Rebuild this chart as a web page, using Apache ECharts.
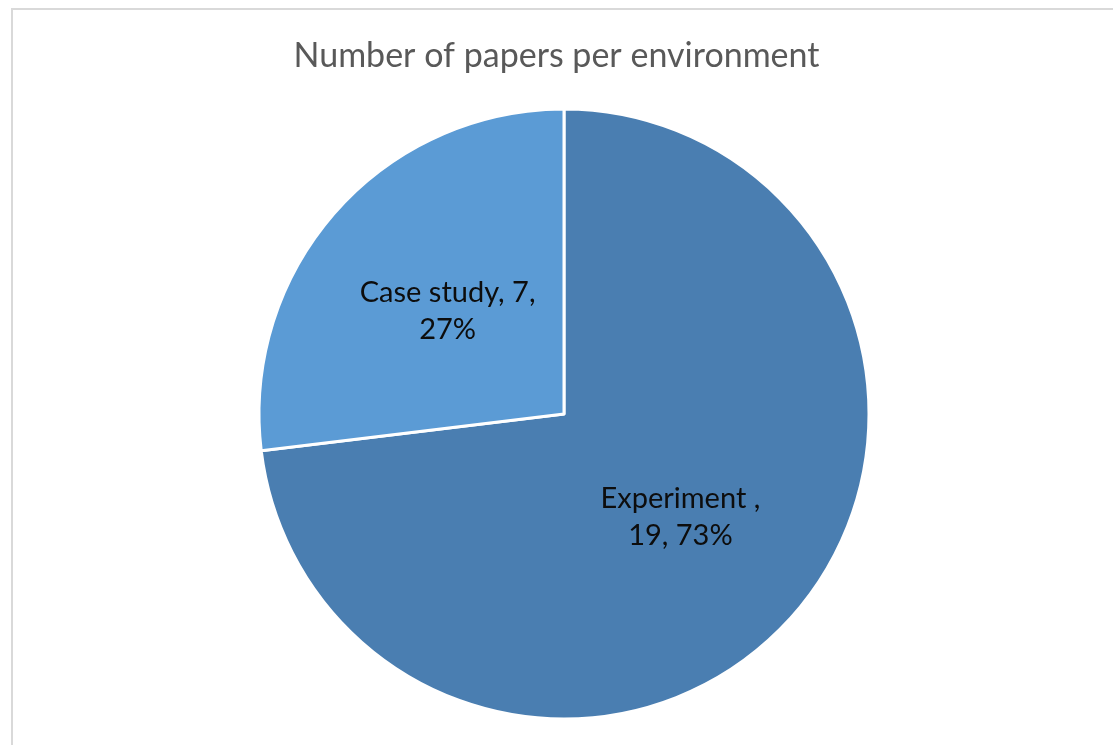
<!DOCTYPE html>
<html>
<head>
<meta charset="utf-8">
<script src="https://cdn.jsdelivr.net/npm/echarts@6/dist/echarts.min.js"></script>
<style>
  html, body { margin: 0; padding: 0; background: #fff; }
  #chart { width: 1113px; height: 745px; }
</style>
</head>
<body>
<div id="chart"></div>
<script>
// data
var categories = ['Experiment ', 'Case study']
var counts = [19, 7]
var sliceColors = ['#4a7eb1', '#5b9bd5']

var chart = echarts.init(document.getElementById('chart'))
chart.setOption({
  animation: false,
  backgroundColor: '#fff',
  title: {
    text: 'Number of papers per environment',
    left: 'center',
    top: 34,
    textStyle: {
      fontFamily: 'Lato',
      fontWeight: 'normal',
      fontSize: 34,
      color: '#595959'
    }
  },
  graphic: [
    {
      type: 'rect',
      shape: { x: 12, y: 9, width: 1110, height: 750 },
      style: { fill: 'none', stroke: '#d9d9d9', lineWidth: 2 },
      silent: true
    }
  ],
  series: [
    {
      type: 'pie',
      center: [564, 414],
      radius: [0, 305],
      startAngle: 90,
      clockwise: true,
      itemStyle: {
        borderColor: '#fff',
        borderWidth: 3
      },
      label: {
        show: true,
        position: 'inside',
        fontFamily: 'Lato',
        fontSize: 29,
        lineHeight: 37,
        color: '#0d0d0d',
        formatter: function(params) {
          if (params.dataIndex === 0) {
            return params.name + ',\n' + params.value + ', ' + Math.round(params.percent) + '%'
          }
          return params.name + ', ' + params.value + ',\n' + Math.round(params.percent) + '%'
        }
      },
      labelLine: { show: false },
      data: categories.map(function(name, i) {
        return { name: name, value: counts[i], itemStyle: { color: sliceColors[i] } }
      })
    }
  ]
})
</script>
</body>
</html>
